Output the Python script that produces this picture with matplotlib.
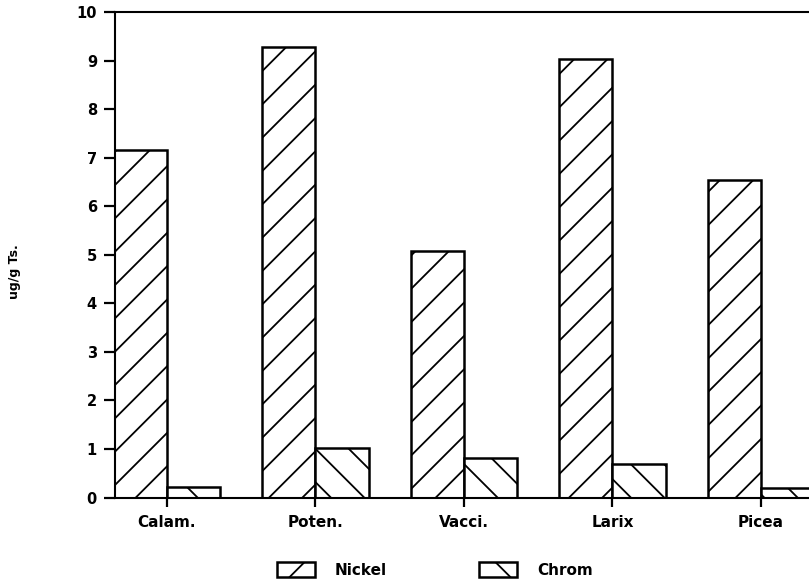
import numpy as np
import matplotlib
matplotlib.use('Agg')
import matplotlib.pyplot as plt

categories = ['Calam.', 'Poten.', 'Vacci.', 'Larix', 'Picea']
nickel = [7.15, 9.27, 5.08, 9.03, 6.54]
chrom = [0.22, 1.01, 0.81, 0.70, 0.20]

plt.rcParams['font.family'] = 'DejaVu Sans'
plt.rcParams['font.weight'] = 'bold'
plt.rcParams['hatch.linewidth'] = 1.3

fig = plt.figure(figsize=(8.09, 5.80), dpi=100)
ax = fig.add_axes([115 / 809, 82.5 / 580, 1 - 115 / 809, 485.5 / 580])

x = np.arange(len(categories))
w = 0.36

ax.bar(x - w / 2, nickel, w, facecolor='white', edgecolor='black',
       linewidth=1.8, hatch='/', label='Nickel')
ax.bar(x + w / 2, chrom, w, facecolor='white', edgecolor='black',
       linewidth=1.8, hatch='\\', label='Chrom')

ax.set_xlim(-0.35, -0.35 + 694 / 148.5)
ax.set_ylim(0, 10)
ax.set_yticks(range(0, 11))
ax.set_xticks(x)
ax.set_xticklabels(categories)

ax.spines['right'].set_visible(False)
for s in ['left', 'bottom', 'top']:
    ax.spines[s].set_linewidth(1.5)

ax.tick_params(axis='y', direction='out', length=8, width=1.6, pad=5, labelsize=10.5)
ax.tick_params(axis='x', direction='out', length=6.5, width=1.6, pad=6, labelsize=11)

fig.text(15 / 809, 1 - 272 / 580, 'ug/g Ts.', rotation=90, ha='center',
         va='center', fontsize=9, fontweight='bold')

fig.legend(loc='center left', bbox_to_anchor=(277 / 809, 1 - 570 / 580),
           ncol=2, frameon=False, fontsize=11, handlelength=2.5,
           handleheight=1.1, handletextpad=1.3, columnspacing=6.0,
           borderpad=0, borderaxespad=0)

plt.savefig('out.png', dpi=100)
